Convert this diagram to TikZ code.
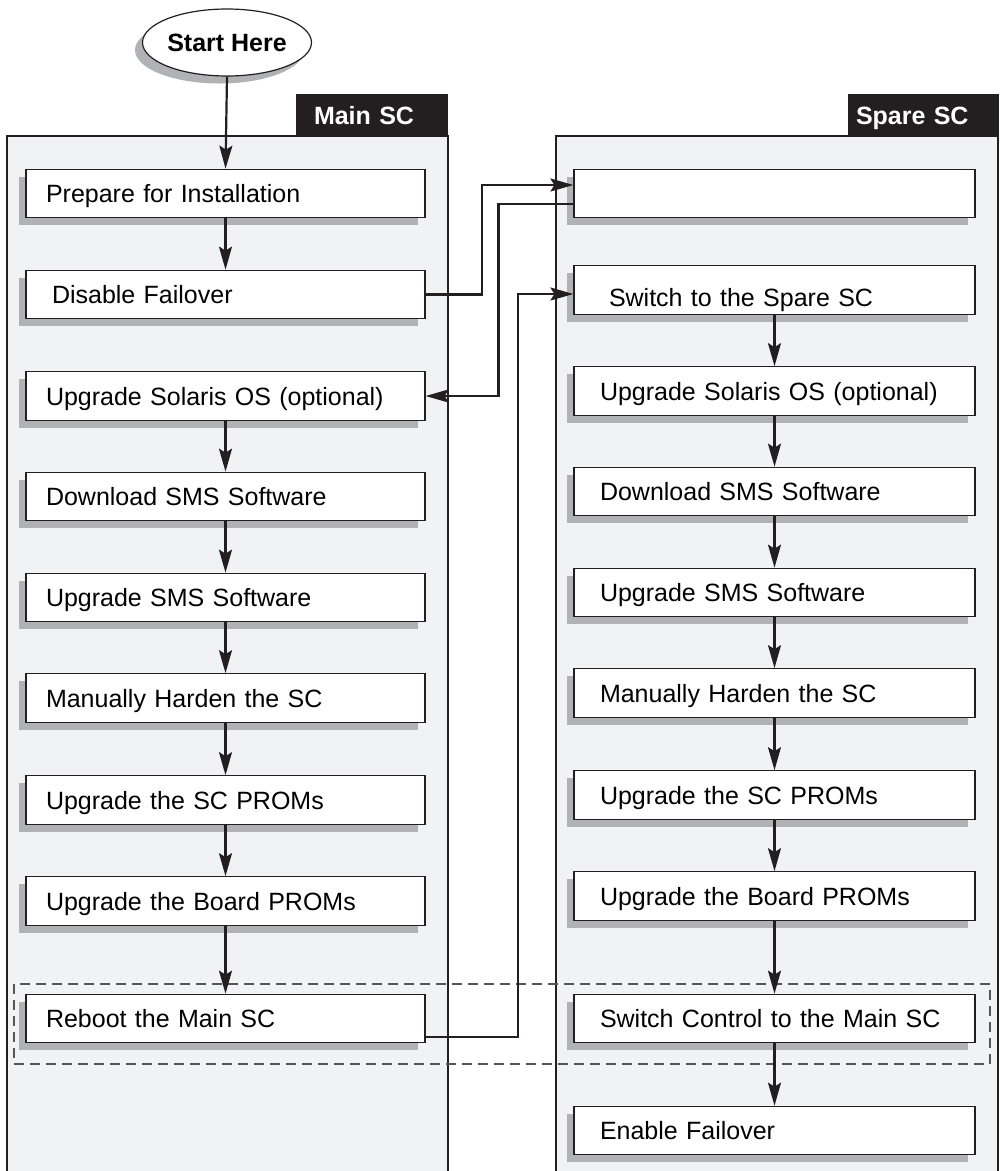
\documentclass[tikz,border=0pt]{standalone}
\usepackage{fontspec}
\setmainfont{Liberation Sans}
\usetikzlibrary{shapes.geometric,shadows,arrows.meta}
\definecolor{ink}{HTML}{231F20}
\definecolor{panelgray}{HTML}{F1F2F4}
\definecolor{shadowgray}{HTML}{B1B2B5}
\definecolor{dashgray}{HTML}{555555}
\tikzset{
  boxshadow/.style={drop shadow={shadow xshift=-7.5pt, shadow yshift=-7.5pt, fill=shadowgray, opacity=1}},
  stepbox/.style={draw=ink, line width=1.2pt, fill=white, minimum height=48.5pt,
    text width=#1, align=left, inner ysep=0pt, text height=18pt, text depth=0pt,
    font=\fontsize{25}{30}\selectfont, boxshadow},
  mainbox/.style={stepbox=359pt, inner xsep=20pt},
  sparebox/.style={stepbox=349pt, inner xsep=26pt},
  startnode/.style={ellipse, draw=ink, line width=1.2pt, fill=white, minimum width=162pt,
    minimum height=67pt, inner sep=0pt, text height=18pt, text depth=0pt,
    font=\fontsize{25}{30}\selectfont\bfseries, boxshadow},
  tabnode/.style={fill=ink, text=white, minimum height=42pt, inner ysep=0pt,
    text height=18pt, text depth=0pt, align=left, font=\fontsize{25}{30}\selectfont\bfseries},
  panelfill/.style={fill=panelgray},
  panelline/.style={draw=ink, line width=2pt},
  arr/.style={draw=ink, line width=2.2pt, -{Stealth[length=23pt, width=13pt, inset=4pt]}},
  dashbox/.style={draw=dashgray, line width=1.2pt, dash pattern=on 10pt off 6pt}
}
\begin{document}
\begin{tikzpicture}[x=1pt, y=-1pt]
\useasboundingbox (0,0) rectangle (1001,1171);
% panels
\fill[panelfill] (7,136) rectangle (448,1171);
\draw[panelline] (7,1171) -- (7,136) -- (448,136) -- (448,1171);
\fill[panelfill] (556,136) rectangle (998,1171);
\draw[panelline] (556,1171) -- (556,136) -- (998,136) -- (998,1171);
% tabs
\node[tabnode, minimum width=152pt, text width=116pt, inner xsep=18pt] (tabmain) at (372,115) {Main SC};
\node[tabnode, minimum width=151pt, text width=135pt, inner xsep=8pt] (tabspare) at (923.5,115) {Spare SC};
% dashed group
\draw[dashbox] (14,984) rectangle (990,1064);
% start
\node[startnode] (start) at (227,42.5) {Start Here};
% main column
\node[mainbox] (m1) at (225.5,193.5) {Prepare for Installation};
\node[mainbox] (m2) at (225.5,294.5) {\hspace*{6pt}Disable Failover};
\node[mainbox] (m3) at (225.5,396) {Upgrade Solaris OS (optional)};
\node[mainbox] (m4) at (225.5,496.5) {Download SMS Software};
\node[mainbox] (m5) at (225.5,597.5) {Upgrade SMS Software};
\node[mainbox] (m6) at (225.5,698) {Manually Harden the SC};
\node[mainbox] (m7) at (225.5,800) {Upgrade the SC PROMs};
\node[mainbox] (m8) at (225.5,901) {Upgrade the Board PROMs};
\node[mainbox] (m9) at (225.5,1018.5) {Reboot the Main SC};
% spare column
\node[sparebox] (s1) at (774.5,193.5) {};
\node[sparebox] (s2) at (774.5,290) {\hspace*{9pt}\raisebox{-7pt}[18pt][0pt]{Switch to the Spare SC}};
\node[sparebox] (s3) at (774.5,391) {Upgrade Solaris OS (optional)};
\node[sparebox] (s4) at (774.5,491.5) {Download SMS Software};
\node[sparebox] (s5) at (774.5,592.5) {Upgrade SMS Software};
\node[sparebox] (s6) at (774.5,693) {Manually Harden the SC};
\node[sparebox] (s7) at (774.5,795) {Upgrade the SC PROMs};
\node[sparebox] (s8) at (774.5,896) {Upgrade the Board PROMs};
\node[sparebox] (s9) at (774.5,1018.5) {Switch Control to the Main SC};
\node[sparebox] (s10) at (774.5,1130.5) {Enable Failover};
% main flow
\draw[arr] (start.south) -- (m1.north);
\draw[arr] (m1.south) -- (m2.north);
\draw[arr] (m3.south) -- (m4.north);
\draw[arr] (m4.south) -- (m5.north);
\draw[arr] (m5.south) -- (m6.north);
\draw[arr] (m6.south) -- (m7.north);
\draw[arr] (m7.south) -- (m8.north);
\draw[arr] (m8.south) -- (m9.north);
% spare flow
\draw[arr] (s2.south) -- (s3.north);
\draw[arr] (s3.south) -- (s4.north);
\draw[arr] (s4.south) -- (s5.north);
\draw[arr] (s5.south) -- (s6.north);
\draw[arr] (s6.south) -- (s7.north);
\draw[arr] (s7.south) -- (s8.north);
\draw[arr] (s8.south) -- (s9.north);
\draw[arr] (s9.south) -- (s10.north);
% cross links
\draw[arr] (m2.east) -- ++(56.5,0) |- ([yshift=8.5pt]s1.west);
\draw[arr] ([yshift=-10.5pt]s1.west) -- ++(-75,0) |- (m3.east);
\draw[arr] ([yshift=-18.5pt]m9.east) -- ++(92,0) |- ([yshift=-4pt]s2.west);
\end{tikzpicture}
\end{document}
